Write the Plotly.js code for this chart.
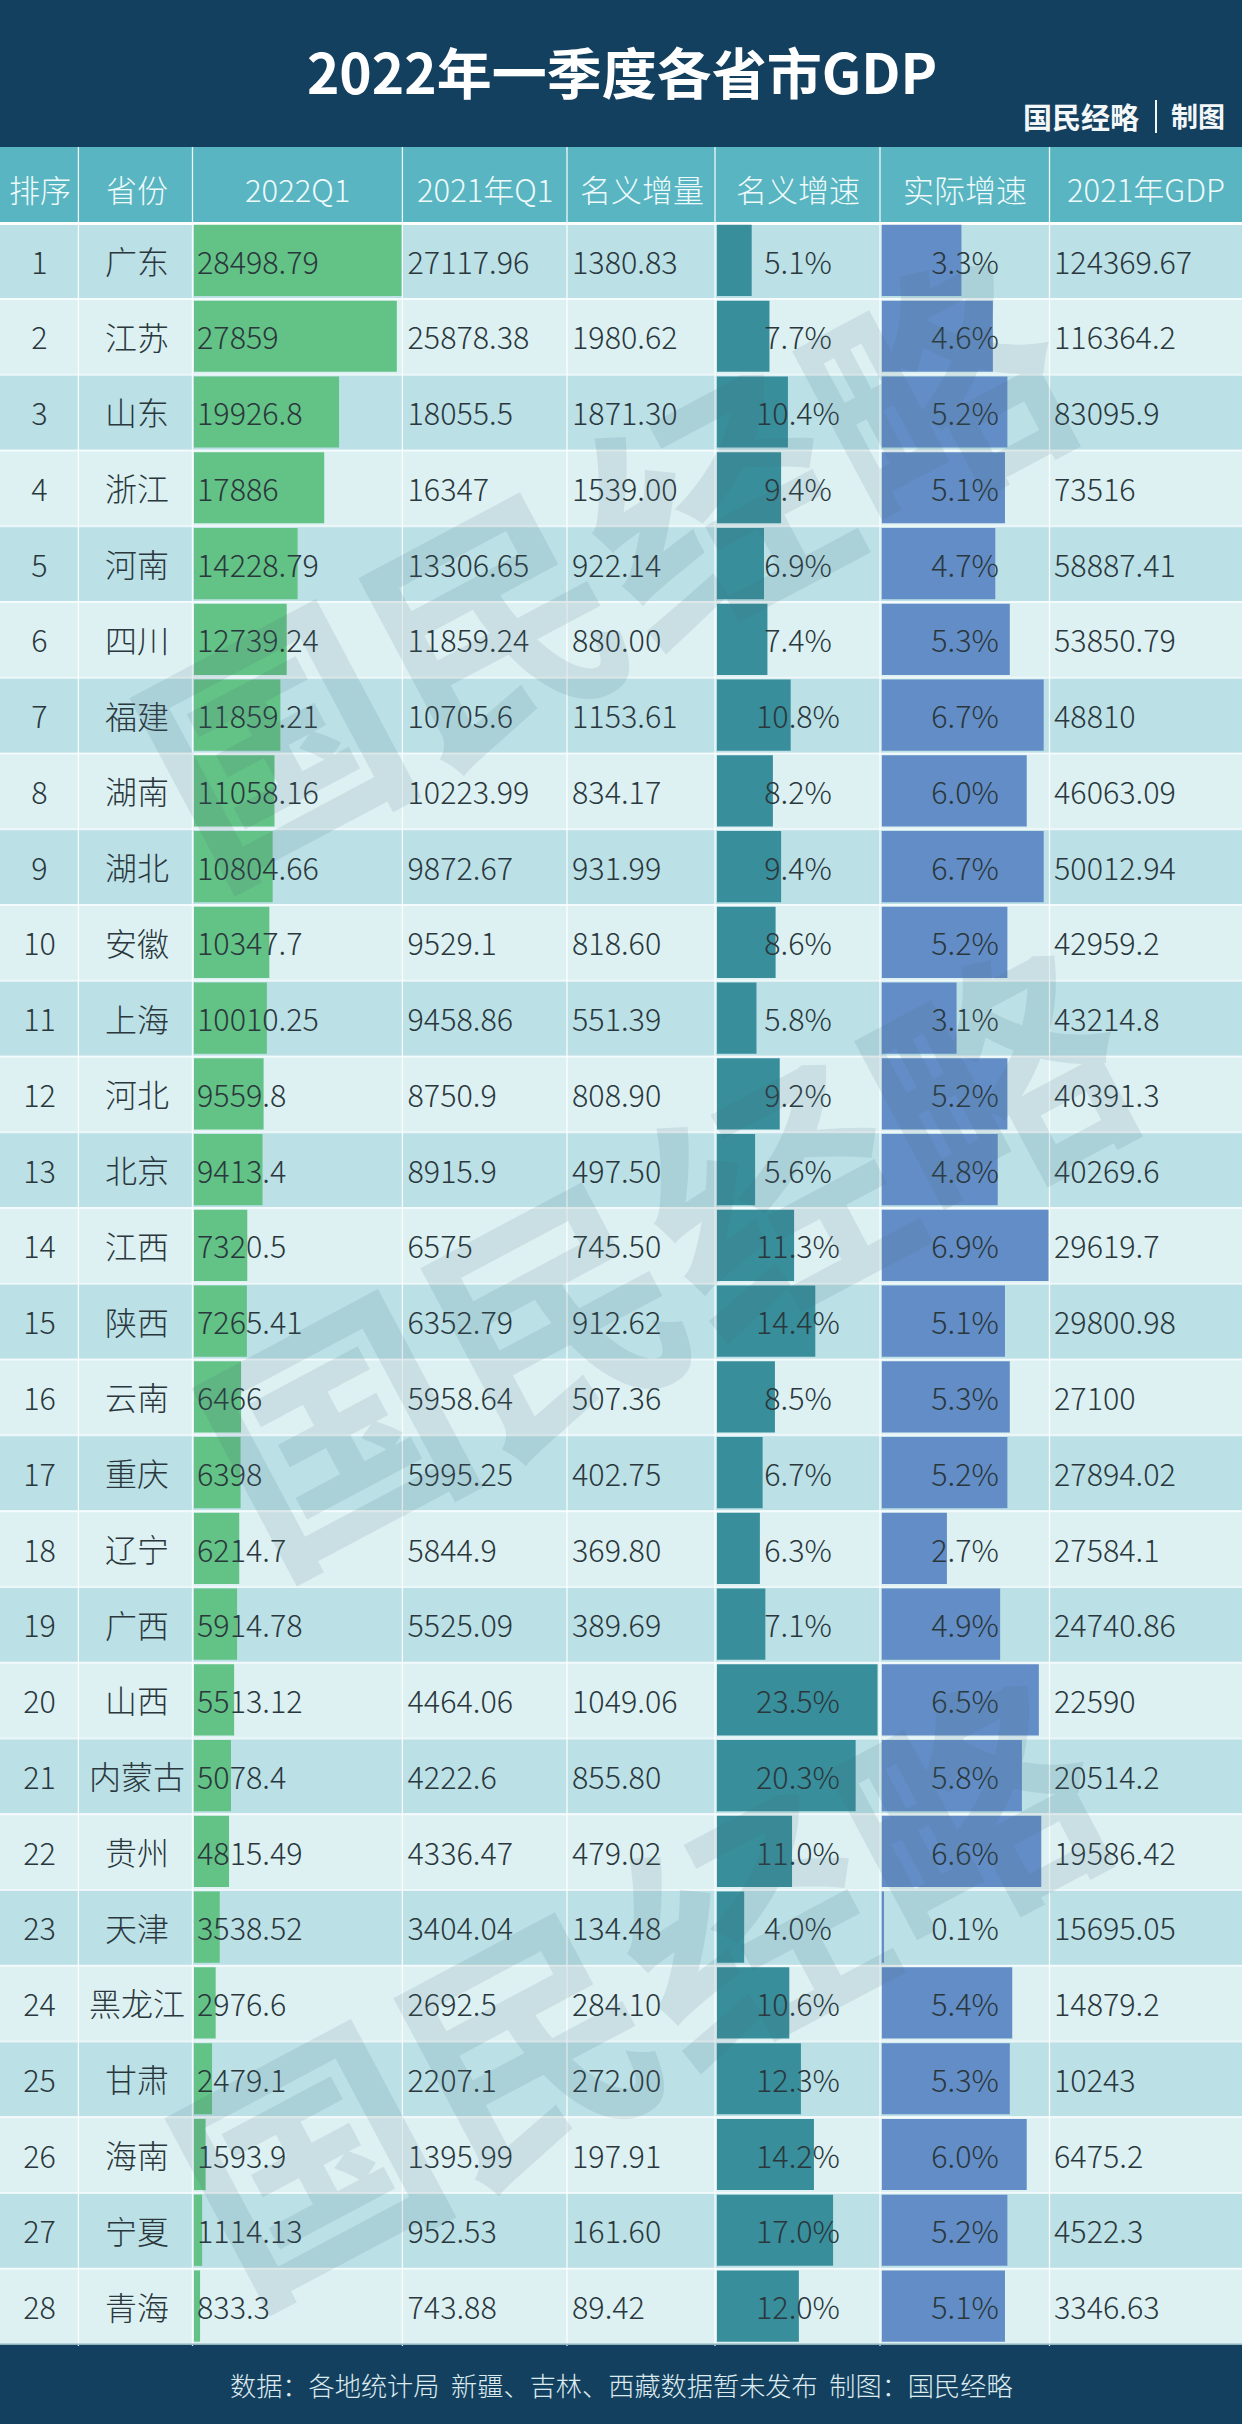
<!DOCTYPE html>
<html><head><meta charset="utf-8">
<script src="https://cdn.plot.ly/plotly-3.0.1.min.js"></script>
<style>html,body{margin:0;padding:0;background:#fff}#c{width:1242px;height:2424px}</style>
</head><body><div id="c"></div>
<script>
const ranks=[1,2,3,4,5,6,7,8,9,10,11,12,13,14,15,16,17,18,19,20,21,22,23,24,25,26,27,28];
const provinces=['广东','江苏','山东','浙江','河南','四川','福建','湖南','湖北','安徽','上海','河北','北京','江西','陕西','云南','重庆','辽宁','广西','山西','内蒙古','贵州','天津','黑龙江','甘肃','海南','宁夏','青海'];
const q2022=[28498.79,27859,19926.8,17886,14228.79,12739.24,11859.21,11058.16,10804.66,10347.7,10010.25,9559.8,9413.4,7320.5,7265.41,6466,6398,6214.7,5914.78,5513.12,5078.4,4815.49,3538.52,2976.6,2479.1,1593.9,1114.13,833.3];
const q2021=[27117.96,25878.38,18055.5,16347,13306.65,11859.24,10705.6,10223.99,9872.67,9529.1,9458.86,8750.9,8915.9,6575,6352.79,5958.64,5995.25,5844.9,5525.09,4464.06,4222.6,4336.47,3404.04,2692.5,2207.1,1395.99,952.53,743.88];
const increase=[1380.83,1980.62,1871.30,1539.00,922.14,880.00,1153.61,834.17,931.99,818.60,551.39,808.90,497.50,745.50,912.62,507.36,402.75,369.80,389.69,1049.06,855.80,479.02,134.48,284.10,272.00,197.91,161.60,89.42];
const nominal=[5.1,7.7,10.4,9.4,6.9,7.4,10.8,8.2,9.4,8.6,5.8,9.2,5.6,11.3,14.4,8.5,6.7,6.3,7.1,23.5,20.3,11.0,4.0,10.6,12.3,14.2,17.0,12.0];
const real=[3.3,4.6,5.2,5.1,4.7,5.3,6.7,6.0,6.7,5.2,3.1,5.2,4.8,6.9,5.1,5.3,5.2,2.7,4.9,6.5,5.8,6.6,0.1,5.4,5.3,6.0,5.2,5.1];
const gdp2021=[124369.67,116364.2,83095.9,73516,58887.41,53850.79,48810,46063.09,50012.94,42959.2,43214.8,40391.3,40269.6,29619.7,29800.98,27100,27894.02,27584.1,24740.86,22590,20514.2,19586.42,15695.05,14879.2,10243,6475.2,4522.3,3346.63];
const headers=['排序','省份','2022Q1','2021年Q1','名义增量','名义增速','实际增速','2021年GDP'];
const titleText='2022年一季度各省市GDP';
const footerText='数据：各地统计局  新疆、吉林、西藏数据暂未发布  制图：国民经略';
const watermarkText='国民经略';

const W=1242,H=2424;
const px=v=>v/W, py=v=>1-v/H;
const FONT='"Noto Sans CJK SC","Noto Sans",sans-serif';
const LIGHT='"Noto Sans CJK SC Light","Noto Sans CJK SC DemiLight","Noto Sans CJK SC","Noto Sans",sans-serif';
const DARK='#14405f',HEAD='#59b5c1',ODD='#bbe0e6',EVEN='#ddf1f3';
const GREEN='#63c285',TEAL='#388e9b',BLUE='#638dc6',INK='#2a383d';
const rowTop=222.6,rowBottom=2343.9,textShift=5.5;
const dividers=[78.4,192.5,402.4,567,715,880,1049.5];
const headCx=[39.5,137,297,485,641.5,798,965,1146];
const idx=ranks.map((_,i)=>i);

function bar(xs,axis,color){return {type:'bar',orientation:'h',x:xs,y:idx,xaxis:axis,yaxis:'y',width:0.94,
  marker:{color:color,line:{width:0}},hoverinfo:'skip',showlegend:false};}
function col(strs,x,pos,size){return {type:'scatter',mode:'text',x:strs.map(()=>x),y:idx,xaxis:'x4',yaxis:'y2',text:strs,
  textposition:pos,textfont:{family:LIGHT,size:size||30.5,color:INK,weight:300},hoverinfo:'skip',showlegend:false,cliponaxis:false};}
const f2=a=>a.map(v=>v.toFixed(2)), pct=a=>a.map(v=>v.toFixed(1)+'%'), s=a=>a.map(String);

const data=[
 bar(q2022,'x',GREEN),bar(nominal,'x2',TEAL),bar(real,'x3',BLUE),
 col(s(ranks),headCx[0],'middle center'),
 col(provinces,headCx[1],'middle center',32),
 col(s(q2022),197,'middle right'),
 col(s(q2021),407.5,'middle right'),
 col(f2(increase),572,'middle right'),
 col(pct(nominal),798,'middle center'),
 col(pct(real),965,'middle center'),
 col(s(gdp2021),1054,'middle right')
];

const rect=(x0,y0,x1,y1,c)=>({type:'rect',xref:'paper',yref:'paper',x0:px(x0),x1:px(x1),y0:py(y0),y1:py(y1),fillcolor:c,line:{width:0},layer:'below'});
const line=(x0,y0,x1,y1,c,w,layer)=>({type:'line',xref:'paper',yref:'paper',x0:px(x0),x1:px(x1),y0:py(y0),y1:py(y1),line:{color:c,width:w},layer:layer||'below'});
const shapes=[rect(0,0,W,147,DARK),rect(0,147,W,223,HEAD),rect(0,2343.5,W,H,DARK)];
const rowH=(rowBottom-rowTop)/ranks.length;
ranks.forEach((_,i)=>{shapes.push(rect(0,rowTop+i*rowH,W,rowTop+(i+1)*rowH,i%2?EVEN:ODD));});
ranks.slice(1).forEach((_,i)=>{const y=rowTop+(i+1)*rowH+0.6;shapes.push(line(0,y,W,y,'rgba(255,255,255,0.7)',2));});
shapes.push(line(0,223.5,W,223.5,'#ffffff',3));
dividers.forEach(x=>shapes.push(line(x,147,x,2346,'rgba(255,255,255,0.9)',1.3)));
shapes.push(rect(0,2343.5,W,2345,'#8fb3bf'));
shapes.push(line(1156,100,1156,133,'#f2f6f8',2));

const ann=(text,x,y,size,color,extra)=>Object.assign({text,xref:'paper',yref:'paper',x:px(x),y:py(y),xanchor:'center',yanchor:'middle',showarrow:false,
  font:{family:FONT,size,color}},extra||{});
const annotations=[];
headers.forEach((h,i)=>annotations.push(ann(h,headCx[i],188,31,'#eefafb',{font:{family:LIGHT,size:31,color:'#eefafb',weight:300}})));
annotations.push(ann('国民经略',1081,116,29,'#f4f7f8',{font:{family:FONT,size:29,color:'#f4f7f8',weight:700}}));
annotations.push(ann('制图',1198,116,27,'#f4f7f8',{font:{family:FONT,size:27,color:'#f4f7f8',weight:700}}));
annotations.push(ann(footerText,621,2385,26.2,'#dcebef',{font:{family:LIGHT,size:26.2,color:'#dcebef'}}));
const wm='rgba(70,110,120,0.13)';
[[598,555],[660,1245],[633,1975]].forEach(c=>annotations.push(ann(watermarkText,c[0],c[1],250,wm,{textangle:-28,font:{family:FONT,size:250,color:wm,weight:700}})));

const hid={visible:false,fixedrange:true};
const layout={width:W,height:H,margin:{l:0,r:0,t:0,b:0},paper_bgcolor:'#ffffff',plot_bgcolor:'rgba(0,0,0,0)',
 barmode:'overlay',showlegend:false,
 title:{text:titleText,x:622/W,xanchor:'center',y:py(75),yanchor:'middle',font:{family:FONT,size:55,color:'#ffffff',weight:700}},
 xaxis:Object.assign({domain:[px(194),px(402)],range:[0,28571],anchor:'y'},hid),
 xaxis2:Object.assign({domain:[px(716.8),px(880)],range:[0,23.86],anchor:'y'},hid),
 xaxis3:Object.assign({domain:[px(881.6),px(1049)],range:[0,6.92],anchor:'y'},hid),
 xaxis4:Object.assign({domain:[0,1],range:[0,W],anchor:'y2'},hid),
 yaxis:Object.assign({domain:[py(rowBottom),py(rowTop)],range:[ranks.length-0.5,-0.5],anchor:'x'},hid),
 yaxis2:Object.assign({domain:[py(rowBottom+textShift),py(rowTop+textShift)],range:[ranks.length-0.5,-0.5],anchor:'x4'},hid),
 shapes,annotations};
Plotly.newPlot('c',data,layout,{staticPlot:true,displayModeBar:false});
</script></body></html>
